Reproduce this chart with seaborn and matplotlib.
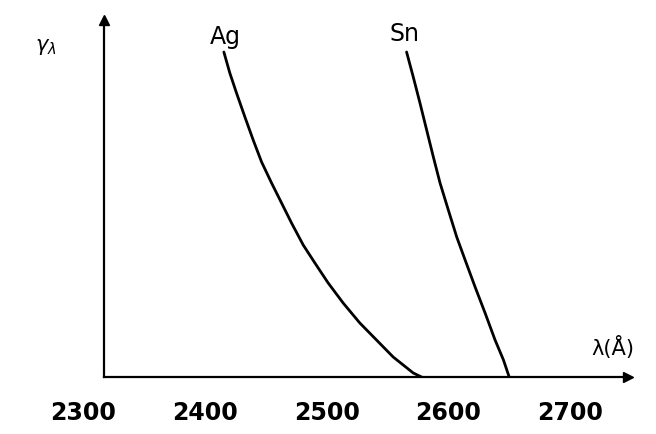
import matplotlib
matplotlib.use("Agg")
import matplotlib.pyplot as plt
import pandas as pd
import seaborn as sns

sns.set_style("white")

# wavelength (Angstrom) vs. spectral yield (arbitrary units)
ag_wavelength = [2415.6, 2420.5, 2426.0, 2432.9, 2439.7, 2446.6, 2454.8, 2463.0, 2471.2,
                 2480.8, 2490.4, 2501.3, 2513.6, 2527.3, 2541.0, 2554.7, 2571.2, 2578.0]
ag_yield = [3.25, 3.04, 2.84, 2.60, 2.37, 2.15, 1.94, 1.74, 1.54,
            1.32, 1.14, 0.94, 0.74, 0.54, 0.37, 0.20, 0.04, 0.0]
sn_wavelength = [2565.7, 2571.2, 2576.7, 2582.2, 2587.7, 2593.2, 2600.0, 2606.9,
                 2613.8, 2622.0, 2630.2, 2638.4, 2645.3, 2650.0]
sn_yield = [3.25, 3.00, 2.74, 2.47, 2.20, 1.94, 1.67, 1.40,
            1.17, 0.90, 0.64, 0.37, 0.17, 0.0]
x_ticks = [2300, 2400, 2500, 2600, 2700]
x_tick_labels = ["2300", "2400", "2500", "2600", "2700"]

df = pd.concat([
    pd.DataFrame({"wl": ag_wavelength, "y": ag_yield, "metal": "Ag"}),
    pd.DataFrame({"wl": sn_wavelength, "y": sn_yield, "metal": "Sn"}),
])

fig = plt.figure(figsize=(6.56, 4.34), dpi=100)
ax = fig.add_axes([60 / 656, 57 / 434, 568 / 656, 357 / 434])

sns.lineplot(data=df, x="wl", y="y", hue="metal", palette=["black", "black"],
             sort=False, linewidth=2.0, legend=False, ax=ax)

ax.set_xlim(2281, 2747.6)
ax.set_ylim(0, 3.57)

# axes drawn as arrows, y-axis sits a bit right of 2300
for s in ["top", "right"]:
    ax.spines[s].set_visible(False)
ax.spines["left"].set_position(("data", 2317))
ax.spines["left"].set_linewidth(1.6)
ax.spines["bottom"].set_linewidth(1.6)
ax.spines["bottom"].set_bounds(2317, 2747.6)
ax.spines["left"].set_color("black")
ax.spines["bottom"].set_color("black")
ax.plot(1, 0, ">k", markersize=7, transform=ax.transAxes, clip_on=False)
ax.plot(2317, 1, "^k", markersize=7, transform=ax.get_xaxis_transform(), clip_on=False)

ax.set_xticks(x_ticks)
ax.set_xticklabels(x_tick_labels, fontsize=17, fontweight="bold", color="black")
ax.tick_params(axis="x", direction="inout", length=9, width=1.3, pad=13, color="black")
ax.xaxis.get_major_ticks()[0].tick1line.set_visible(False)
ax.set_yticks([])
ax.set_xlabel("")
ax.set_ylabel("")

ax.text(2417, 3.40, "Ag", fontsize=17, ha="center", va="center", color="black")
ax.text(2564, 3.43, "Sn", fontsize=17, ha="center", va="center", color="black")
ax.text(2269, 3.30, r"$\gamma_\lambda$", fontsize=15, ha="center", va="center", color="black")
ax.text(2735, 0.29, "λ(Å)", fontsize=15, ha="center", va="center", color="black")

fig.savefig("out.png", dpi=100)
